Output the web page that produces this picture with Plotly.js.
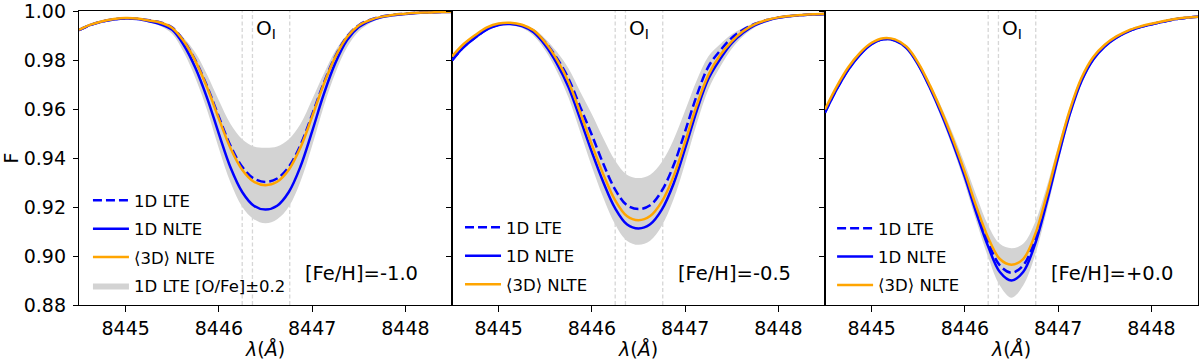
<!DOCTYPE html>
<html><head><meta charset="utf-8">
<script src="https://cdn.plot.ly/plotly-3.0.1.min.js"></script>
<style>html,body{margin:0;padding:0;background:#fff}#chart{width:1200px;height:362px}</style>
</head><body><div id="chart"></div>
<script>
// wavelength grid (Angstrom)
const wavelength = [8444.5, 8444.625, 8444.75, 8444.875, 8445.0, 8445.125, 8445.25, 8445.375, 8445.5, 8445.625, 8445.75, 8445.875, 8446.0, 8446.125, 8446.25, 8446.375, 8446.5, 8446.625, 8446.75, 8446.875, 8447.0, 8447.125, 8447.25, 8447.375, 8447.5, 8447.625, 8447.75, 8447.875, 8448.0, 8448.125, 8448.25, 8448.375, 8448.5];

// [Fe/H] = -1.0
const p1_lte  = [0.9924,0.9945,0.9959,0.9968,0.9972,0.9970,0.9964,0.9955,0.9934,0.9880,0.9799,0.9693,0.9569,0.9451,0.9365,0.9317,0.9303,0.9317,0.9365,0.9454,0.9578,0.9708,0.9818,0.9898,0.9944,0.9967,0.9980,0.9987,0.9991,0.9995,0.9996,0.9998,0.9999];
const p1_nlte = [0.9924,0.9945,0.9959,0.9967,0.9971,0.9969,0.9960,0.9948,0.9925,0.9862,0.9768,0.9645,0.9500,0.9362,0.9262,0.9206,0.9190,0.9206,0.9262,0.9366,0.9510,0.9662,0.9790,0.9883,0.9936,0.9962,0.9977,0.9985,0.9990,0.9994,0.9996,0.9998,0.9998];
const p1_3d   = [0.9925,0.9946,0.9960,0.9969,0.9973,0.9971,0.9963,0.9954,0.9933,0.9878,0.9796,0.9688,0.9561,0.9441,0.9353,0.9304,0.9290,0.9304,0.9353,0.9444,0.9570,0.9703,0.9815,0.9896,0.9943,0.9966,0.9979,0.9987,0.9991,0.9995,0.9996,0.9998,0.9999];
const p1_hi   = [0.9925,0.9946,0.9960,0.9969,0.9973,0.9972,0.9965,0.9956,0.9934,0.9892,0.9830,0.9740,0.9636,0.9540,0.9478,0.9448,0.9443,0.9448,0.9478,0.9540,0.9640,0.9745,0.9840,0.9905,0.9943,0.9967,0.9980,0.9987,0.9992,0.9995,0.9997,0.9998,0.9999];
const p1_lo   = [0.9923,0.9944,0.9957,0.9965,0.9968,0.9965,0.9956,0.9940,0.9908,0.9832,0.9726,0.9595,0.9440,0.9301,0.9202,0.9151,0.9134,0.9151,0.9202,0.9305,0.9451,0.9613,0.9750,0.9854,0.9919,0.9953,0.9972,0.9982,0.9989,0.9993,0.9996,0.9997,0.9998];

// [Fe/H] = -0.5
const p2_lte  = [0.9800,0.9854,0.9894,0.9927,0.9946,0.9950,0.9943,0.9921,0.9874,0.9809,0.9725,0.9610,0.9495,0.9375,0.9272,0.9208,0.9192,0.9208,0.9267,0.9370,0.9510,0.9657,0.9775,0.9840,0.9892,0.9926,0.9950,0.9965,0.9975,0.9982,0.9985,0.9988,0.9990];
const p2_nlte = [0.9800,0.9854,0.9894,0.9927,0.9945,0.9949,0.9940,0.9915,0.9862,0.9787,0.9690,0.9560,0.9425,0.9300,0.9195,0.9130,0.9113,0.9130,0.9190,0.9295,0.9440,0.9595,0.9725,0.9805,0.9870,0.9914,0.9944,0.9962,0.9974,0.9981,0.9985,0.9988,0.9990];
const p2_3d   = [0.9816,0.9867,0.9904,0.9935,0.9951,0.9954,0.9946,0.9923,0.9873,0.9803,0.9712,0.9587,0.9455,0.9332,0.9228,0.9164,0.9147,0.9164,0.9223,0.9325,0.9467,0.9617,0.9741,0.9821,0.9878,0.9920,0.9948,0.9965,0.9976,0.9982,0.9986,0.9989,0.9991];
const p2_hi   = [0.9801,0.9855,0.9895,0.9928,0.9948,0.9952,0.9947,0.9929,0.9889,0.9835,0.9767,0.9672,0.9580,0.9480,0.9390,0.9333,0.9319,0.9333,0.9385,0.9475,0.9595,0.9719,0.9817,0.9866,0.9907,0.9934,0.9954,0.9967,0.9976,0.9983,0.9986,0.9989,0.9991];
const p2_lo   = [0.9799,0.9853,0.9893,0.9925,0.9942,0.9944,0.9932,0.9901,0.9840,0.9755,0.9647,0.9507,0.9365,0.9236,0.9129,0.9063,0.9046,0.9063,0.9124,0.9231,0.9380,0.9542,0.9682,0.9773,0.9848,0.9900,0.9936,0.9957,0.9971,0.9979,0.9984,0.9987,0.9989];

// [Fe/H] = +0.0
const p3_lte  = [0.9588,0.9683,0.9764,0.9825,0.9868,0.9887,0.9882,0.9852,0.9785,0.9692,0.9585,0.9465,0.9332,0.9188,0.9058,0.8962,0.8932,0.8962,0.9066,0.9232,0.9416,0.9587,0.9720,0.9806,0.9859,0.9894,0.9919,0.9936,0.9948,0.9958,0.9968,0.9974,0.9978];
const p3_nlte = [0.9586,0.9681,0.9762,0.9823,0.9866,0.9886,0.9881,0.9850,0.9782,0.9688,0.9580,0.9458,0.9323,0.9174,0.9039,0.8935,0.8900,0.8935,0.9046,0.9215,0.9404,0.9580,0.9715,0.9803,0.9857,0.9893,0.9918,0.9935,0.9947,0.9958,0.9968,0.9974,0.9978];
const p3_3d   = [0.9600,0.9693,0.9772,0.9831,0.9872,0.9891,0.9886,0.9856,0.9790,0.9698,0.9592,0.9473,0.9342,0.9200,0.9075,0.8988,0.8965,0.8988,0.9085,0.9245,0.9428,0.9597,0.9728,0.9813,0.9864,0.9898,0.9922,0.9938,0.9950,0.9960,0.9969,0.9975,0.9979];
const p3_hi   = [0.9590,0.9685,0.9766,0.9827,0.9870,0.9889,0.9885,0.9857,0.9795,0.9708,0.9608,0.9497,0.9375,0.9245,0.9125,0.9050,0.9032,0.9050,0.9135,0.9280,0.9450,0.9610,0.9735,0.9815,0.9866,0.9899,0.9922,0.9938,0.9950,0.9960,0.9969,0.9975,0.9979];
const p3_lo   = [0.9584,0.9679,0.9760,0.9820,0.9862,0.9881,0.9875,0.9842,0.9772,0.9675,0.9563,0.9437,0.9295,0.9140,0.8995,0.8880,0.8830,0.8880,0.9000,0.9180,0.9380,0.9563,0.9703,0.9795,0.9851,0.9888,0.9914,0.9932,0.9945,0.9956,0.9966,0.9973,0.9977];

const o_lines = [8446.25, 8446.36, 8446.76];
const feh_labels = ['[Fe/H]=-1.0', '[Fe/H]=-0.5', '[Fe/H]=+0.0'];
const series_names = ['1D LTE', '1D NLTE', '\u27E83D\u27E9 NLTE', '1D LTE [O/Fe]\u00B10.2'];
const x_ticks = [8445, 8446, 8447, 8448];
const y_ticks = [0.88, 0.90, 0.92, 0.94, 0.96, 0.98, 1.00];
const x_range = [8444.5, 8448.5];
const y_range = [0.88, 1.0002];

const panels = [
  {lte: p1_lte, nlte: p1_nlte, n3d: p1_3d, hi: p1_hi, lo: p1_lo},
  {lte: p2_lte, nlte: p2_nlte, n3d: p2_3d, hi: p2_hi, lo: p2_lo},
  {lte: p3_lte, nlte: p3_nlte, n3d: p3_3d, hi: p3_hi, lo: p3_lo}
];

const BLUE = '#0000ff', ORANGE = '#ffa500', BAND = '#d3d3d3', VLINE = '#d6d6d6';
const LW = 2.5;

const traces = [];
panels.forEach((p, k) => {
  const sfx = k === 0 ? '' : String(k + 1);
  const xa = 'x' + sfx, ya = 'y' + sfx, lg = 'legend' + sfx;
  traces.push({x: wavelength, y: p.lo, xaxis: xa, yaxis: ya, mode: 'lines',
    line: {width: 0, color: BAND, shape: 'spline'}, showlegend: false, hoverinfo: 'skip', legend: lg,
    legendgroup: 'b' + k});
  traces.push({x: wavelength, y: p.hi, xaxis: xa, yaxis: ya, mode: 'lines', fill: 'tonexty', fillcolor: BAND,
    line: {width: 0, color: BAND, shape: 'spline'}, name: series_names[3], showlegend: k === 0,
    legend: lg, legendrank: 4, legendgroup: 'b' + k});
  traces.push({x: wavelength, y: p.lte, xaxis: xa, yaxis: ya, mode: 'lines',
    line: {width: LW, color: BLUE, dash: '9px,4px', shape: 'spline'}, name: series_names[0],
    legend: lg, legendrank: 1, legendgroup: 'l' + k});
  traces.push({x: wavelength, y: p.nlte, xaxis: xa, yaxis: ya, mode: 'lines',
    line: {width: LW, color: BLUE, shape: 'spline'}, name: series_names[1],
    legend: lg, legendrank: 2, legendgroup: 'n' + k});
  traces.push({x: wavelength, y: p.n3d, xaxis: xa, yaxis: ya, mode: 'lines',
    line: {width: LW, color: ORANGE, shape: 'spline'}, name: series_names[2],
    legend: lg, legendrank: 3, legendgroup: 'd' + k});
});

function xAxis(dom) {
  return {domain: dom, range: x_range, tickvals: x_ticks, ticktext: x_ticks.map(String),
    ticks: 'outside', ticklen: 6, tickwidth: 1, tickcolor: 'black',
    showline: true, mirror: true, linecolor: 'black', linewidth: 1.2,
    showgrid: false, zeroline: false, tickfont: {size: 19}, ticklabeloverflow: 'allow',
    title: {text: '<i>\u03BB</i>(<i>\u00C5</i>)', standoff: 4, font: {size: 19}}};
}
function yAxis(anchor, labels) {
  const a = {domain: [0, 1], anchor: anchor, range: y_range, tickvals: y_ticks,
    ticktext: y_ticks.map(v => v.toFixed(2)),
    ticks: 'outside', ticklen: 5, tickwidth: 1, tickcolor: 'black',
    showline: true, mirror: true, linecolor: 'black', linewidth: 1.2,
    showgrid: false, zeroline: false, showticklabels: labels, tickfont: {size: 19},
    ticklabelstandoff: 3, ticklabeloverflow: 'allow'};
  if (labels) a.title = {text: 'F', standoff: 6, font: {size: 19}};
  return a;
}

const third = 1 / 3;
const shapes = [], annotations = [];
['x', 'x2', 'x3'].forEach((xr, k) => {
  o_lines.forEach(v => shapes.push({type: 'line', xref: xr, yref: 'paper', x0: v, x1: v, y0: 0, y1: 1,
    line: {color: VLINE, width: 1.3, dash: '4px,2.5px'}, layer: 'below'}));
  annotations.push({xref: xr, yref: 'y', x: 8446.51, y: 0.9927, text: 'O<sub>I</sub>', showarrow: false,
    xanchor: 'center', yanchor: 'middle', font: {size: 20}});
  annotations.push({xref: xr, yref: 'y', x: 8446.9, y: 0.8927, text: feh_labels[k], showarrow: false,
    xanchor: 'left', yanchor: 'middle', font: {size: 19.5}});
});

const legendBase = {bgcolor: 'rgba(0,0,0,0)', borderwidth: 0, font: {size: 16.5}, xanchor: 'left', yanchor: 'top',
  tracegroupgap: 4, itemwidth: 36, traceorder: 'grouped'};

const layout = {
  width: 1200, height: 362,
  margin: {l: 79, r: 2, t: 11, b: 57, pad: 0},
  paper_bgcolor: 'white', plot_bgcolor: 'white',
  font: {family: 'DejaVu Sans', size: 19, color: 'black'},
  showlegend: true,
  xaxis: xAxis([0, third]), xaxis2: xAxis([third, 2 * third]), xaxis3: xAxis([2 * third, 1]),
  yaxis: yAxis('x', true), yaxis2: yAxis('x2', false), yaxis3: yAxis('x3', false),
  legend: Object.assign({}, legendBase, {x: 0.008, y: 0.415}),
  legend2: Object.assign({}, legendBase, {x: 0.3405, y: 0.323}),
  legend3: Object.assign({}, legendBase, {x: 0.673, y: 0.320}),
  shapes: shapes, annotations: annotations
};
layout.yaxis2.matches = 'y';
layout.yaxis3.matches = 'y';

Plotly.newPlot('chart', traces, layout, {staticPlot: true, displayModeBar: false});
</script></body></html>
